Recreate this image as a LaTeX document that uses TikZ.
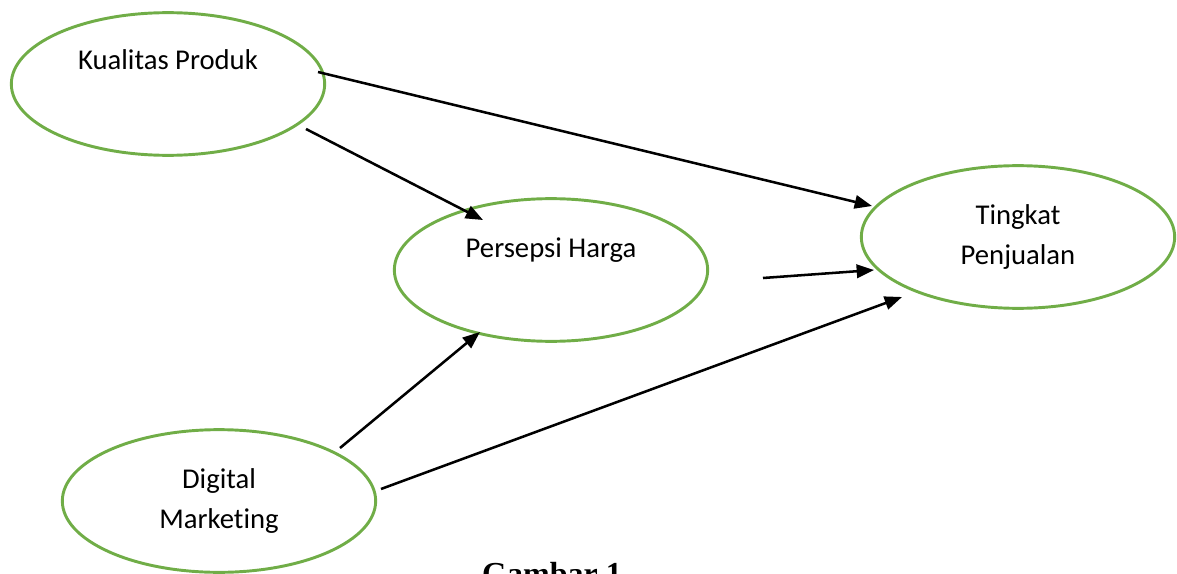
\documentclass[tikz,border=0pt]{standalone}
\usepackage{fontspec}
\setmainfont{Carlito}[Ligatures = NoCommon]
\newfontfamily\captionfont{Liberation Serif}
\usetikzlibrary{shapes.geometric,arrows.meta}
\definecolor{ovalgreen}{HTML}{70AD47}
\tikzset{
    latent/.style = {ellipse, draw = ovalgreen, line width = 2.2pt,
        minimum width = 235pt, minimum height = 107pt, align = center,
        font = \fontsize{21.5}{30}\selectfont},
    link/.style = {line width = 1.9pt, -{Triangle[length = 13pt, width = 10pt]}}
}
\begin{document}
\begin{tikzpicture}[x = 0.75pt, y = -0.75pt]
            \useasboundingbox (0, 0) rectangle (1177, 574);
            \node [latent] (kualitas) at (168, 84) {Kualitas Produk\\[7pt] \mbox{}};
            \node [latent] (persepsi) at (551, 270) {Persepsi Harga\\[4pt] \mbox{}};
            \node [latent] (tingkat) at (1018, 237) {Tingkat\\ Penjualan};
            \node [latent] (digital) at (219, 501) {Digital\\ Marketing};
            \node [anchor = base, font = \captionfont\bfseries\fontsize{24}{28}\selectfont] (gambar) at (552, 584) {Gambar 1};
            % free ends of the arrows
            \coordinate (kualitas-a) at (318, 72);
            \coordinate (kualitas-b) at (306, 129);
            \coordinate (persepsi-a) at (483, 220);
            \coordinate (persepsi-b) at (480, 332);
            \coordinate (persepsi-c) at (763, 278);
            \coordinate (tingkat-a) at (872, 206);
            \coordinate (tingkat-b) at (874, 270);
            \coordinate (tingkat-c) at (902, 297);
            \coordinate (digital-a) at (340, 448);
            \coordinate (digital-b) at (381, 489);
            \draw [link] (kualitas-a) -- (tingkat-a);
            \draw [link] (kualitas-b) -- (persepsi-a);
            \draw [link] (persepsi-c) -- (tingkat-b);
            \draw [link] (digital-a) -- (persepsi-b);
            \draw [link] (digital-b) -- (tingkat-c);
        \end{tikzpicture}
\end{document}
